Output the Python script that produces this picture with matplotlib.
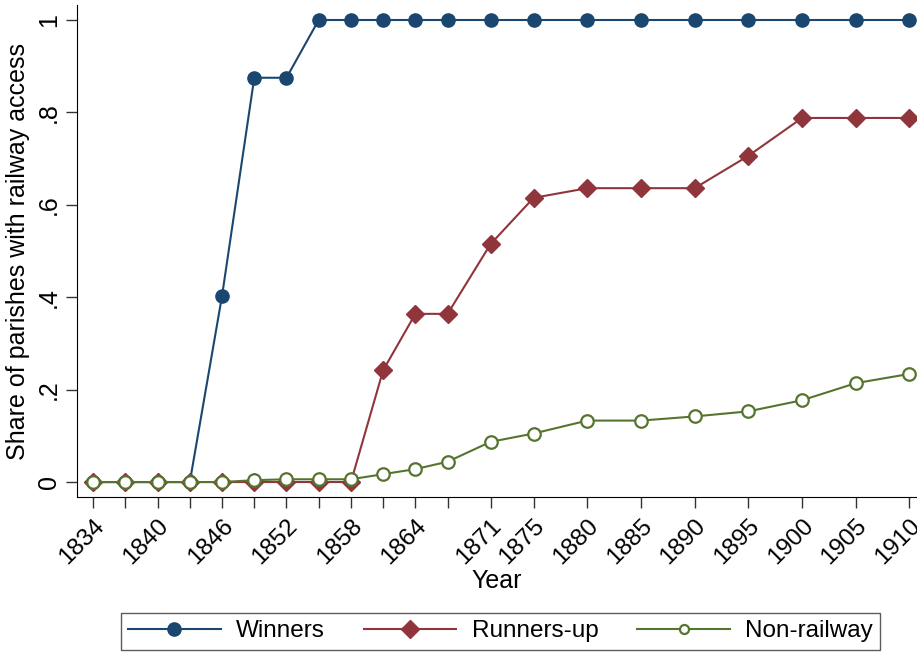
import numpy as np
import matplotlib.pyplot as plt

plt.rcParams['font.family'] = ['Liberation Sans', 'DejaVu Sans']

# data
years = [1834, 1837, 1840, 1843, 1846, 1849, 1852, 1855, 1858, 1861, 1864,
         1867, 1871, 1875, 1880, 1885, 1890, 1895, 1900, 1905, 1910]
winners = [0, 0, 0, 0, 0.403, 0.875, 0.875, 1, 1, 1, 1,
           1, 1, 1, 1, 1, 1, 1, 1, 1, 1]
runners_up = [0, 0, 0, 0, 0, 0, 0, 0, 0, 0.242, 0.364,
              0.364, 0.515, 0.615, 0.636, 0.636, 0.636, 0.706, 0.788, 0.788, 0.788]
non_railway = [0, 0, 0, 0, 0, 0.004, 0.006, 0.006, 0.006, 0.017, 0.028,
               0.044, 0.087, 0.105, 0.133, 0.133, 0.142, 0.153, 0.177, 0.214, 0.234]
xlabels = [1834, 1840, 1846, 1852, 1858, 1864, 1871, 1875, 1880, 1885,
           1890, 1895, 1900, 1905, 1910]
yticks = [0, 0.2, 0.4, 0.6, 0.8, 1]
ylabels = ['0', '.2', '.4', '.6', '.8', '1']

navy = '#1a476f'
maroon = '#90353b'
green = '#55752f'

fig = plt.figure(figsize=(9.17, 6.52), dpi=100)
ax = fig.add_axes([0.084, 0.238, 0.916, 0.754])

ax.plot(years, winners, color=navy, lw=1.5, marker='o', ms=9.5,
        label='Winners')
ax.plot(years, runners_up, color=maroon, lw=1.5, marker='D', ms=9,
        label='Runners-up')
ax.plot(years, non_railway, color=green, lw=1.5, marker='o', ms=9,
        mfc='white', mew=1.6, label='Non-railway')

ax.set_xlim(1832.5, 1910.7)
ax.set_ylim(-0.032, 1.032)

ax.set_xticks(years)
ax.set_xticklabels([str(y) if y in xlabels else '' for y in years],
                   rotation=45, ha='right', rotation_mode='anchor', fontsize=17.5)
ax.set_yticks(yticks)
ax.set_yticklabels(ylabels, rotation=90, va='center', fontsize=18)
ax.tick_params(length=8, width=1, color='#333333')
ax.tick_params(axis='x', pad=5)

ax.spines['top'].set_visible(False)
ax.spines['right'].set_visible(False)

ax.set_xlabel('Year', fontsize=18, labelpad=0)
ax.set_ylabel('Share of parishes with railway access', fontsize=18, labelpad=5)

leg = fig.legend(loc='lower center', bbox_to_anchor=(0.546, 0.0), ncol=3,
                 fontsize=17.5, frameon=True, fancybox=False, edgecolor='#333333',
                 handlelength=3.8, handletextpad=0.64, columnspacing=1.6,
                 borderpad=0.3, borderaxespad=0.1)
leg.get_frame().set_linewidth(1)
leg.legend_handles[2].set_markersize(6.5)

fig.savefig('out.png', dpi=100)
